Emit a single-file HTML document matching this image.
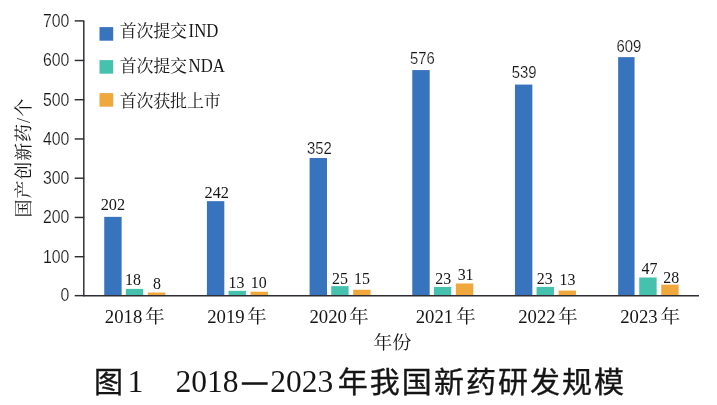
<!DOCTYPE html>
<html lang="zh-CN">
<head>
<meta charset="utf-8">
<title>图1 2018—2023年我国新药研发规模</title>
<style>
html,body{margin:0;padding:0;background:#fff;}
body{width:717px;height:405px;overflow:hidden;}
svg{display:block;}
.sans{font-family:"Liberation Sans", sans-serif;stroke:#fff;stroke-width:0.18px;}
.serif{font-family:"Liberation Serif", "Noto Serif CJK SC", serif;}
.hei{font-family:"Liberation Serif", "Noto Sans CJK SC", sans-serif;font-weight:400;stroke:#151515;stroke-width:0.35px;}
text{fill:#151515;}
</style>
</head>
<body>
<svg width="717" height="405" viewBox="0 0 717 405">
<rect width="717" height="405" fill="#fff"/>
<rect x="104.24" y="216.86" width="17.40" height="78.78" fill="#3873be"/>
<rect x="125.84" y="288.88" width="17.40" height="6.77" fill="#45c1ae"/>
<rect x="147.84" y="292.51" width="17.40" height="3.14" fill="#f0a83c"/>
<rect x="206.92" y="201.16" width="17.40" height="94.48" fill="#3873be"/>
<rect x="228.52" y="290.85" width="17.40" height="4.80" fill="#45c1ae"/>
<rect x="250.52" y="291.72" width="17.40" height="3.93" fill="#f0a83c"/>
<rect x="309.60" y="157.99" width="17.40" height="137.66" fill="#3873be"/>
<rect x="331.20" y="286.14" width="17.40" height="9.51" fill="#45c1ae"/>
<rect x="353.20" y="289.76" width="17.40" height="5.89" fill="#f0a83c"/>
<rect x="412.28" y="70.07" width="17.40" height="225.58" fill="#3873be"/>
<rect x="433.88" y="286.92" width="17.40" height="8.73" fill="#45c1ae"/>
<rect x="455.88" y="283.48" width="17.40" height="12.17" fill="#f0a83c"/>
<rect x="514.96" y="84.59" width="17.40" height="211.06" fill="#3873be"/>
<rect x="536.56" y="286.92" width="17.40" height="8.73" fill="#45c1ae"/>
<rect x="558.56" y="290.55" width="17.40" height="5.10" fill="#f0a83c"/>
<rect x="618.14" y="57.12" width="16.40" height="238.53" fill="#3873be"/>
<rect x="639.24" y="277.50" width="17.40" height="18.15" fill="#45c1ae"/>
<rect x="661.24" y="284.66" width="17.40" height="10.99" fill="#f0a83c"/>
<path d="M83.80 20.90 V295.65 H699.00" fill="none" stroke="#2d2d33" stroke-width="1.45"/>
<path d="M74.70 295.65 H84.30" stroke="#2d2d33" stroke-width="1.45"/>
<text class="sans" transform="translate(69.30,301.45) scale(0.8500,1)" font-size="18.6" text-anchor="end">0</text>
<path d="M74.70 256.70 H84.30" stroke="#2d2d33" stroke-width="1.45"/>
<text class="sans" transform="translate(69.30,262.50) scale(0.8500,1)" font-size="18.6" text-anchor="end">100</text>
<path d="M74.70 217.45 H84.30" stroke="#2d2d33" stroke-width="1.45"/>
<text class="sans" transform="translate(69.30,223.25) scale(0.8500,1)" font-size="18.6" text-anchor="end">200</text>
<path d="M74.70 178.20 H84.30" stroke="#2d2d33" stroke-width="1.45"/>
<text class="sans" transform="translate(69.30,184.00) scale(0.8500,1)" font-size="18.6" text-anchor="end">300</text>
<path d="M74.70 138.95 H84.30" stroke="#2d2d33" stroke-width="1.45"/>
<text class="sans" transform="translate(69.30,144.75) scale(0.8500,1)" font-size="18.6" text-anchor="end">400</text>
<path d="M74.70 99.70 H84.30" stroke="#2d2d33" stroke-width="1.45"/>
<text class="sans" transform="translate(69.30,105.50) scale(0.8500,1)" font-size="18.6" text-anchor="end">500</text>
<path d="M74.70 60.45 H84.30" stroke="#2d2d33" stroke-width="1.45"/>
<text class="sans" transform="translate(69.30,66.25) scale(0.8500,1)" font-size="18.6" text-anchor="end">600</text>
<path d="M74.70 20.90 H84.30" stroke="#2d2d33" stroke-width="1.45"/>
<text class="sans" transform="translate(69.30,26.70) scale(0.8500,1)" font-size="18.6" text-anchor="end">700</text>
<text class="serif" transform="translate(112.94,209.76) scale(0.9500,1)" font-size="17.2" text-anchor="middle">202</text>
<text class="serif" transform="translate(132.94,284.99) scale(0.9150,1)" font-size="17.4" text-anchor="middle">18</text>
<text class="serif" transform="translate(156.94,288.71) scale(0.9150,1)" font-size="17.4" text-anchor="middle">8</text>
<text class="serif" transform="translate(123.57,323.00) scale(1.0400,1)" font-size="18" text-anchor="middle">2018</text>
<text class="serif" transform="translate(154.88,323.00) scale(1.0700,1)" font-size="18.5" text-anchor="middle">年</text>
<text class="serif" transform="translate(216.72,197.56) scale(0.9500,1)" font-size="17.2" text-anchor="middle">242</text>
<text class="serif" transform="translate(236.42,288.25) scale(0.9150,1)" font-size="17.4" text-anchor="middle">13</text>
<text class="serif" transform="translate(258.72,288.42) scale(0.9150,1)" font-size="17.4" text-anchor="middle">10</text>
<text class="serif" transform="translate(225.90,323.00) scale(1.0400,1)" font-size="18" text-anchor="middle">2019</text>
<text class="serif" transform="translate(256.93,323.00) scale(1.0700,1)" font-size="18.5" text-anchor="middle">年</text>
<text class="sans" transform="translate(319.40,153.59) scale(0.8850,1)" font-size="16.8" text-anchor="middle">352</text>
<text class="serif" transform="translate(339.90,284.24) scale(0.9150,1)" font-size="17.4" text-anchor="middle">25</text>
<text class="serif" transform="translate(361.90,284.36) scale(0.9150,1)" font-size="17.4" text-anchor="middle">15</text>
<text class="serif" transform="translate(328.18,323.00) scale(1.0400,1)" font-size="18" text-anchor="middle">2020</text>
<text class="serif" transform="translate(358.93,323.00) scale(1.0700,1)" font-size="18.5" text-anchor="middle">年</text>
<text class="sans" transform="translate(422.28,63.77) scale(0.8850,1)" font-size="16.8" text-anchor="middle">576</text>
<text class="serif" transform="translate(443.28,284.32) scale(0.9150,1)" font-size="17.4" text-anchor="middle">23</text>
<text class="serif" transform="translate(465.58,280.18) scale(0.9150,1)" font-size="17.4" text-anchor="middle">31</text>
<text class="serif" transform="translate(434.48,323.00) scale(1.0400,1)" font-size="18" text-anchor="middle">2021</text>
<text class="serif" transform="translate(466.00,323.00) scale(1.0700,1)" font-size="18.5" text-anchor="middle">年</text>
<text class="sans" transform="translate(524.06,78.29) scale(0.8850,1)" font-size="16.8" text-anchor="middle">539</text>
<text class="serif" transform="translate(544.76,284.32) scale(0.9150,1)" font-size="17.4" text-anchor="middle">23</text>
<text class="serif" transform="translate(567.56,285.25) scale(0.9150,1)" font-size="17.4" text-anchor="middle">13</text>
<text class="serif" transform="translate(536.98,323.00) scale(1.0400,1)" font-size="18" text-anchor="middle">2022</text>
<text class="serif" transform="translate(567.78,323.00) scale(1.0700,1)" font-size="18.5" text-anchor="middle">年</text>
<text class="sans" transform="translate(628.79,51.52) scale(0.8850,1)" font-size="16.8" text-anchor="middle">609</text>
<text class="serif" transform="translate(649.54,273.60) scale(0.9150,1)" font-size="17.4" text-anchor="middle">47</text>
<text class="serif" transform="translate(671.24,282.86) scale(0.9150,1)" font-size="17.4" text-anchor="middle">28</text>
<text class="serif" transform="translate(638.97,323.00) scale(1.0400,1)" font-size="18" text-anchor="middle">2023</text>
<text class="serif" transform="translate(670.44,323.00) scale(1.0700,1)" font-size="18.5" text-anchor="middle">年</text>
<text class="serif" transform="translate(392.30,348.60) scale(1.0350,1)" font-size="18.5" text-anchor="middle">年份</text>
<text class="serif" transform="translate(30.3,217.5) rotate(-90)" font-size="18" letter-spacing="0.9">国产创新药/<tspan dx="0.6">个</tspan></text>
<rect x="99.5" y="27.10" width="13.7" height="13.6" fill="#3873be"/>
<text class="serif" x="119.7" y="36.50" font-size="17" letter-spacing="-0.2">首次提交</text>
<text class="serif" transform="translate(188.60,36.80) scale(0.9300,1)" font-size="18.0" text-anchor="start">IND</text>
<rect x="99.5" y="60.10" width="13.7" height="13.6" fill="#45c1ae"/>
<text class="serif" x="119.7" y="72.10" font-size="17" letter-spacing="-0.2">首次提交</text>
<text class="serif" transform="translate(188.60,72.40) scale(0.9300,1)" font-size="18.0" text-anchor="start">NDA</text>
<rect x="99.5" y="93.10" width="13.7" height="13.6" fill="#f0a83c"/>
<text class="serif" x="119.7" y="107.30" font-size="17" letter-spacing="-0.2">首次获批上市</text>
<text class="hei" transform="translate(94.1,392.6) scale(1.0,1)" font-size="29">图</text>
<text class="serif" x="127.5" y="391.8" font-size="32">1</text>
<text class="serif" transform="translate(175.60,391.80) scale(0.9850,1)" font-size="32" text-anchor="start">2018</text>
<text class="serif" transform="translate(242.40,390.00) scale(0.9400,1)" font-size="26" text-anchor="start" stroke="#151515" stroke-width="1.2">—</text>
<text class="serif" transform="translate(270.30,391.80) scale(0.9850,1)" font-size="32" text-anchor="start">2023</text>
<text class="hei" transform="translate(0,393) scale(1.035,1)" x="326.37 357.33 388.28 419.24 450.20 481.15 512.11 543.07 574.02" font-size="29">年我国新药研发规模</text>
</svg>
</body>
</html>
